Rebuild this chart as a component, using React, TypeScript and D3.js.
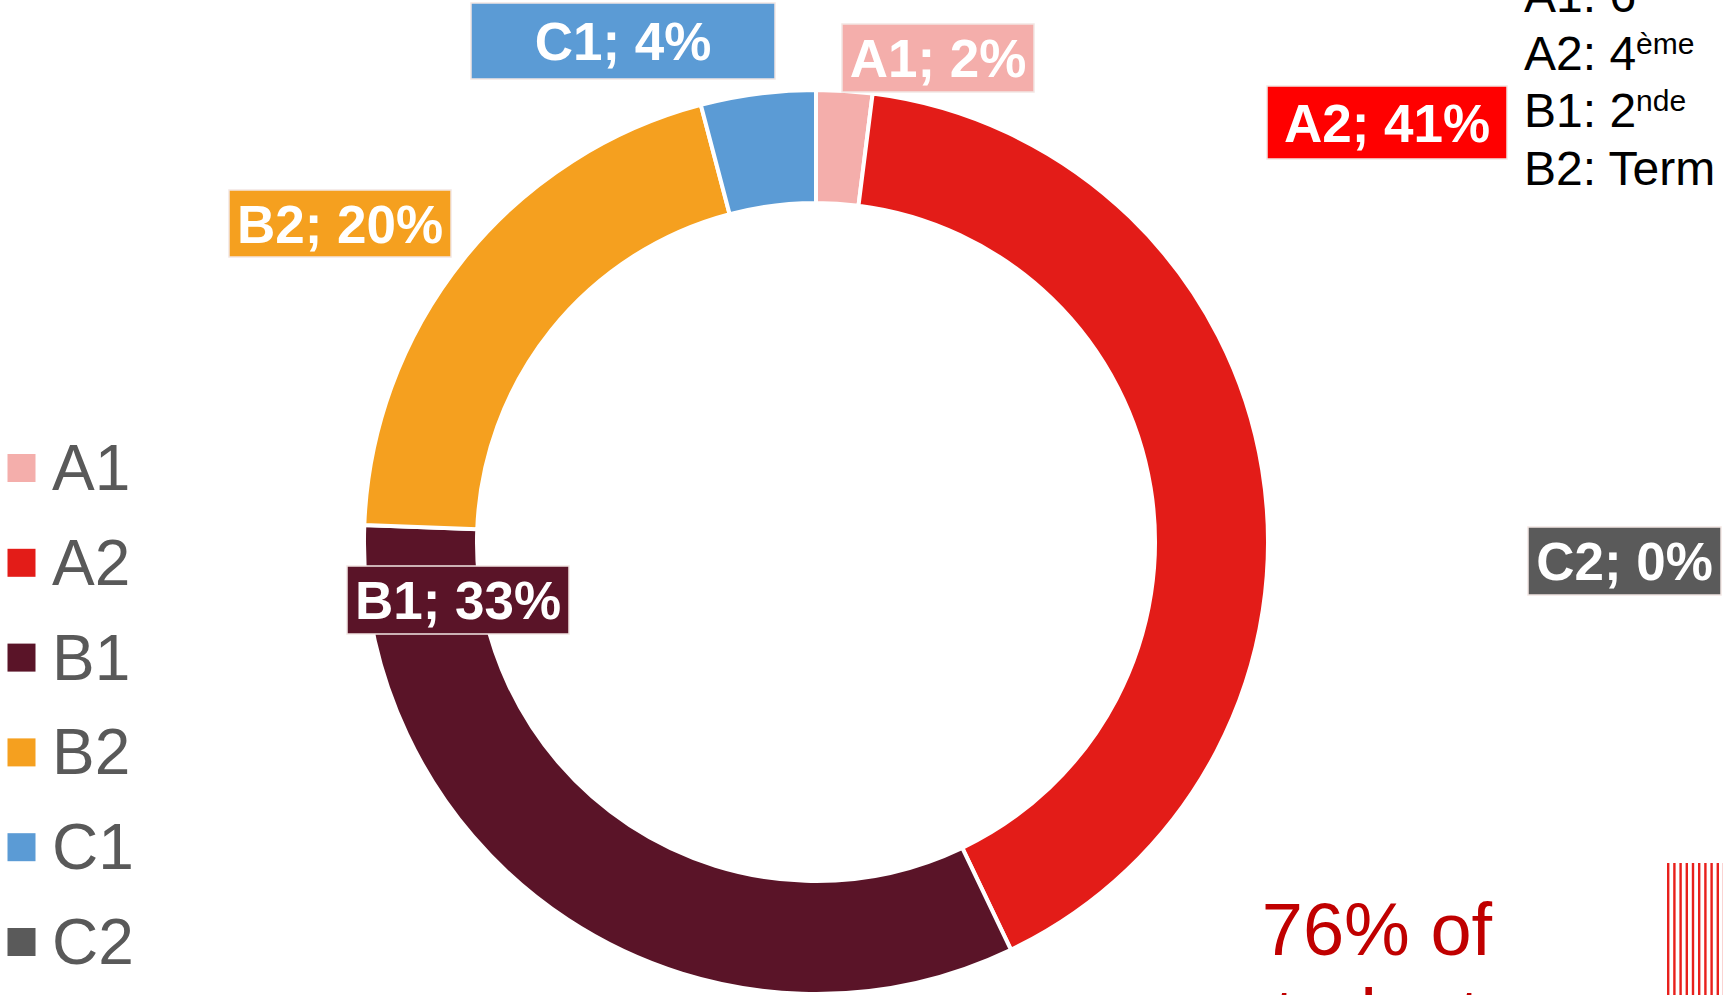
import React from "react";
import * as d3 from "d3";

// ---- data ----
const categories = ["A1", "A2", "B1", "B2", "C1", "C2"];
const shares = [2.0, 40.9, 32.7, 20.3, 4.1, 0];
const sliceColors = ["#F4AEAB", "#E31C18", "#5A1428", "#F5A01F", "#5B9BD5", "#5A5A5A"];
const labelColors = ["#F4AEAB", "#FF0000", "#5A1428", "#F5A01F", "#5B9BD5", "#5A5A5A"];
const levelLines = [
  { code: "A1", main: "6", sup: "ème" },
  { code: "A2", main: "4", sup: "ème" },
  { code: "B1", main: "2", sup: "nde" },
  { code: "B2", main: "Term", sup: "" },
];
const noteLines = ["76% of", "students"];

// ---- layout ----
const W = 1723;
const H = 995;
const CX = 816;
const CY = 542;
const R_OUT = 452;
const R_IN = 339;
const FONT = "'Liberation Sans', Arial, Helvetica, sans-serif";

// label boxes (x, y, w, h) per category
const labelBoxes: Record<string, [number, number, number, number]> = {
  A1: [842, 24, 192, 68],
  A2: [1267, 86, 240, 73],
  B1: [347, 566, 222, 68],
  B2: [229, 190, 222, 67],
  C1: [471, 3, 304, 76],
  C2: [1528, 527, 193, 68],
};

export default function App() {
  const pie = d3
    .pie<number>()
    .sort(null)
    .value((d) => d)
    .startAngle(0)
    .endAngle(2 * Math.PI);
  const arcs = pie(shares);
  const arcGen = d3.arc<d3.PieArcDatum<number>>().innerRadius(R_IN).outerRadius(R_OUT);

  const legendY = d3.scalePoint<string>().domain(categories).range([468, 942]);

  const stripeX = d3.range(10).map((i) => 1667 + i * 6.2);

  return (
    <svg
      width={W}
      height={H}
      style={{ position: "absolute", left: 0, top: 0, background: "#fff" }}
      fontFamily={FONT}
    >
      <rect x={0} y={0} width={W} height={H} fill="#fff" />
      {/* donut */}
      <g transform={`translate(${CX},${CY})`}>
        {arcs.map((a, i) => (
          <path key={categories[i]} d={arcGen(a) || ""} fill={sliceColors[i]} stroke="#fff" strokeWidth={4} strokeLinejoin="miter" />
        ))}
      </g>

      {/* data labels */}
      {categories.map((c, i) => {
        const [x, y, w, h] = labelBoxes[c];
        const pct = Math.round(shares[i]);
        return (
          <g key={"lab" + c}>
            <rect x={x} y={y} width={w} height={h} fill={labelColors[i]} stroke="#F2E6E3" strokeWidth={1.5} />
            <text
              x={x + w / 2}
              y={y + h / 2 + 19}
              textAnchor="middle"
              fill="#fff"
              fontSize={53}
              fontWeight="bold"
            >
              {`${c}; ${pct}%`}
            </text>
          </g>
        );
      })}

      {/* legend */}
      {categories.map((c, i) => {
        const cy = legendY(c) as number;
        return (
          <g key={"leg" + c}>
            <rect x={7.5} y={cy - 14} width={28} height={28} fill={sliceColors[i]} />
            <text x={52} y={cy + 22} fontSize={64} fill="#595959">
              {c}
            </text>
          </g>
        );
      })}

      {/* level key top-right */}
      {levelLines.map((l, i) => (
        <text key={"lvl" + l.code} x={1524} y={12 + i * 57.7} fontSize={48} fill="#000">
          {`${l.code}: ${l.main}`}
          {l.sup ? (
            <tspan fontSize={30} dy={-16}>
              {l.sup}
            </tspan>
          ) : null}
        </text>
      ))}

      {/* note text */}
      {noteLines.map((t, i) => (
        <text key={"note" + i} x={1377} y={955 + i * 86} textAnchor="middle" fontSize={74} fill="#C00000">
          {t}
        </text>
      ))}

      {/* striped decoration */}
      {stripeX.map((x, i) => (
        <rect key={"st" + i} x={x} y={863} width={2.4} height={H - 863} fill="#E8201C" />
      ))}
    </svg>
  );
}
